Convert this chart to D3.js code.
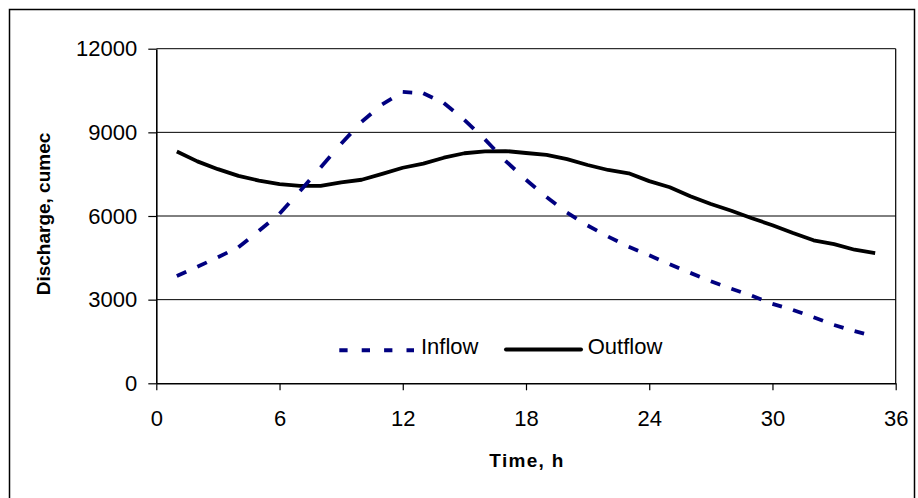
<!DOCTYPE html>
<html>
<head>
<meta charset="utf-8">
<script src="https://cdn.jsdelivr.net/npm/d3@7/dist/d3.min.js"></script>
<style>
  body { margin: 0; background: #fff; }
  svg { font-family: "Liberation Sans", Arial, sans-serif; }
</style>
</head>
<body>
<svg id="chart" width="918" height="498"></svg>
<script>
// hours since start of the flood
const hours = [1, 2, 3, 4, 5, 6, 7, 8, 9, 10, 11, 12, 13, 14, 15, 16, 17, 18,
  19, 20, 21, 22, 23, 24, 25, 26, 27, 28, 29, 30, 31, 32, 33, 34, 35];

// discharge, cumec
const inflow = [3850, 4180, 4520, 4880, 5470, 6080, 6900, 7740, 8590, 9380, 10000, 10450,
  10400, 10050, 9450, 8750, 7980, 7300, 6680, 6120, 5660, 5260, 4900, 4590, 4270,
  3960, 3660, 3390, 3140, 2850, 2630, 2370, 2090, 1870, 1680];
const outflow = [8310, 7960, 7680, 7440, 7270, 7140, 7080, 7080, 7210, 7300, 7510, 7730,
  7880, 8090, 8250, 8320, 8330, 8260, 8190, 8040, 7830, 7650, 7530, 7250, 7030,
  6710, 6430, 6190, 5920, 5670, 5390, 5130, 4990, 4790, 4670];

const xTicks = [0, 6, 12, 18, 24, 30, 36];
const yTicks = [0, 3000, 6000, 9000, 12000];

const svg = d3.select("#chart");
const plotL = 156.3, plotR = 895.7, plotT = 48.7, plotB = 383.3;

// outer chart frame
svg.append("rect")
  .attr("x", 9.5).attr("y", 9.5)
  .attr("width", 905).attr("height", 500)
  .attr("fill", "none").attr("stroke", "#000").attr("stroke-width", 1.5);

const x = d3.scaleLinear().domain([0, 36]).range([plotL, plotR]);
const y = d3.scaleLinear().domain([0, 12000]).range([plotB, plotT]);

// gridlines
svg.append("g").selectAll("line")
  .data(yTicks.slice(1))
  .enter().append("line")
  .attr("x1", plotL).attr("x2", plotR)
  .attr("y1", d => y(d)).attr("y2", d => y(d))
  .attr("stroke", "#000").attr("stroke-width", 1);

// plot border (right side)
svg.append("line")
  .attr("x1", plotR).attr("x2", plotR).attr("y1", plotT).attr("y2", plotB)
  .attr("stroke", "#000").attr("stroke-width", 1.2);

const yAxis = svg.append("g")
  .attr("transform", "translate(" + plotL + ",0)")
  .call(d3.axisLeft(y).tickValues(yTicks).tickSize(8).tickSizeOuter(0).tickPadding(11).tickFormat(d3.format("d")));

const xAxis = svg.append("g")
  .attr("transform", "translate(0," + plotB + ")")
  .call(d3.axisBottom(x).tickValues(xTicks).tickSize(7).tickSizeOuter(0).tickPadding(20.5).tickFormat(d3.format("d")));

[xAxis, yAxis].forEach(ax => {
  ax.select(".domain").attr("stroke", "#000").attr("stroke-width", 1.6);
  ax.selectAll(".tick line").attr("stroke", "#000").attr("stroke-width", 1.2);
  ax.selectAll("text").attr("font-size", 22).attr("fill", "#000")
    .attr("font-family", "Liberation Sans, Arial, sans-serif");
});

const line = d3.line().x(d => x(d.h)).y(d => y(d.v));

const inData = hours.map((h, i) => ({ h: h, v: inflow[i] }));
const outData = hours.map((h, i) => ({ h: h, v: outflow[i] }));

// outflow: solid black
svg.append("path")
  .datum(outData)
  .attr("d", line)
  .attr("fill", "none")
  .attr("stroke", "#000")
  .attr("stroke-width", 3.8)
  .attr("stroke-linejoin", "round");

// inflow: dashed navy, dash restarts at every point
const segs = inData.slice(0, -1).map((d, i) => [d, inData[i + 1]]);
svg.append("g").selectAll("path")
  .data(segs)
  .enter().append("path")
  .attr("d", line)
  .attr("fill", "none")
  .attr("stroke", "#000080")
  .attr("stroke-width", 3.8)
  .attr("stroke-dasharray", s => {
    const L = Math.hypot(x(s[1].h) - x(s[0].h), y(s[1].v) - y(s[0].v));
    return (L * 0.46) + " " + L;
  });

// axis titles
svg.append("text")
  .attr("transform", "translate(50,214) rotate(-90)")
  .attr("text-anchor", "middle")
  .attr("font-size", 19).attr("font-weight", "bold")
  .text("Discharge, cumec");

svg.append("text")
  .attr("x", 527).attr("y", 466.5)
  .attr("text-anchor", "middle")
  .attr("font-size", 19).attr("font-weight", "bold")
  .attr("letter-spacing", 1.3)
  .text("Time, h");

// legend
const legend = svg.append("g");
legend.append("line")
  .attr("x1", 339.3).attr("x2", 414).attr("y1", 350.3).attr("y2", 350.3)
  .attr("stroke", "#000080").attr("stroke-width", 4)
  .attr("stroke-dasharray", "8.3 14.1");
legend.append("text")
  .attr("x", 421).attr("y", 354.3)
  .attr("font-size", 22)
  .text("Inflow");
legend.append("line")
  .attr("x1", 506).attr("x2", 581).attr("y1", 349.5).attr("y2", 349.5)
  .attr("stroke", "#000").attr("stroke-width", 4)
  .attr("stroke-linecap", "round");
legend.append("text")
  .attr("x", 587.7).attr("y", 354.3)
  .attr("font-size", 22)
  .text("Outflow");
</script>
</body>
</html>
